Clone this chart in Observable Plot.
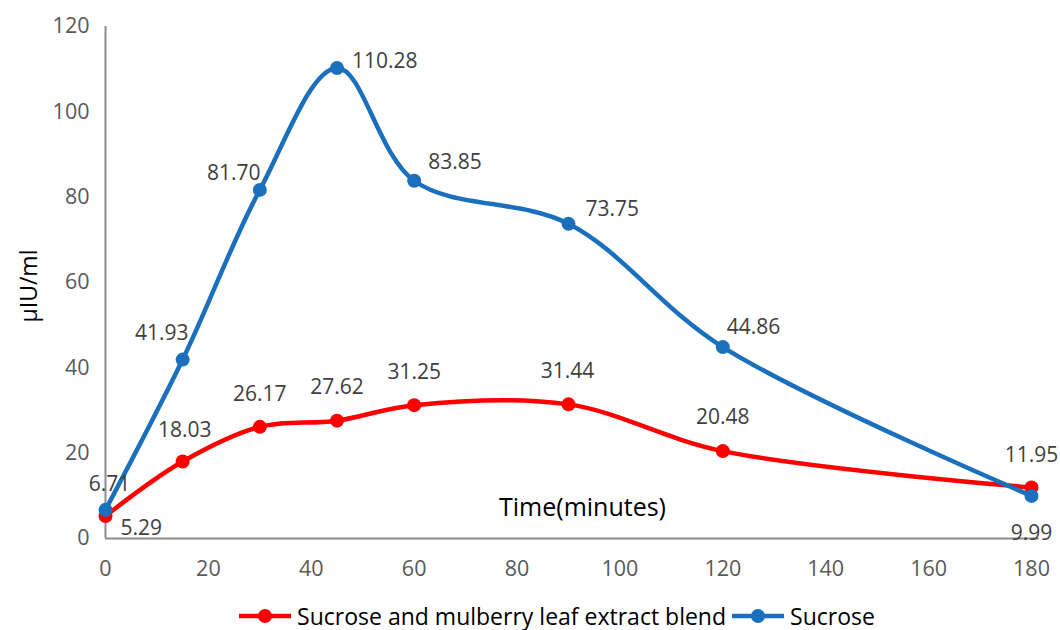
<!DOCTYPE html>
<html>
<head>
<meta charset="utf-8">
<script src="https://cdn.jsdelivr.net/npm/d3@7"></script>
<script src="https://cdn.jsdelivr.net/npm/@observablehq/plot@0.6"></script>
<style>
  html, body { margin: 0; background: white; font-family: "Open Sans", sans-serif; overflow: hidden; }
  #chart svg { display: block; }
  #legend { display: flex; justify-content: center; align-items: center; height: 28px; font-size: 23px; line-height: 1; color: #000; margin-left: 54px; margin-top: 2px; }
  .item { display: flex; align-items: center; margin: 0 3px; }
  .item svg { margin-right: 6px; }
</style>
</head>
<body>
<div id="chart"></div>
<div id="legend"></div>
<script>
const times = [0, 15, 30, 45, 60, 90, 120, 180];
const blend = [5.29, 18.03, 26.17, 27.62, 31.25, 31.44, 20.48, 11.95];
const sucrose = [6.71, 41.93, 81.70, 110.28, 83.85, 73.75, 44.86, 9.99];
const seriesNames = ["Sucrose and mulberry leaf extract blend", "Sucrose"];
const xTicks = [0, 20, 40, 60, 80, 100, 120, 140, 160, 180];
const yTicks = [0, 20, 40, 60, 80, 100, 120];
const colors = ["#ff0000", "#1a70bd"];

const seriesValues = [blend, sucrose];
const rows = [];
seriesNames.forEach((s, k) => times.forEach((t, i) => rows.push({series: s, k, i, t, v: seriesValues[k][i]})));

// label placement (offsets in px relative to the point), per series/index
const place = [
  [[15, 12, "start"], [2, -31, "middle"], [0, -33, "middle"], [0, -33, "middle"], [0, -33, "middle"], [-1, -33, "middle"], [0, -34, "middle"], [0, -32, "middle"]],
  [[4, -26, "middle"], [-21, -26, "middle"], [-26, -17, "middle"], [15, -7, "start"], [14, -18, "start"], [17, -15, "start"], [4, -20, "start"], [0, 37, "middle"]]
];

const labelMarks = [];
rows.forEach(r => {
  const [dx, dy, anchor] = place[r.k][r.i];
  labelMarks.push(Plot.text([r], {x: "t", y: "v", text: d => d.v.toFixed(2), dx, dy, textAnchor: anchor, fill: "#404040", fontSize: 21}));
});

const seriesMarks = [];
seriesNames.forEach((s, k) => {
  const data = rows.filter(r => r.k === k);
  seriesMarks.push(Plot.line(data, {x: "t", y: "v", stroke: colors[k], strokeWidth: 4.5, curve: "catmull-rom"}));
  seriesMarks.push(Plot.dot(data, {x: "t", y: "v", r: 7, fill: colors[k], stroke: "none"}));
});

const chart = Plot.plot({
  width: 1060,
  height: 600,
  marginLeft: 105,
  marginRight: 29,
  marginTop: 26,
  marginBottom: 62,
  style: {fontFamily: "Open Sans", fontSize: "21px", background: "white"},
  x: {domain: [0, 180]},
  y: {domain: [0, 120]},
  marks: [
    Plot.axisX(xTicks, {tickSize: 0, tickPadding: 22, fill: "#595959", fontSize: 21.5, label: null}),
    Plot.axisY(yTicks, {tickSize: 0, tickPadding: 16, fill: "#595959", fontSize: 21.5, label: null}),
    Plot.ruleX([0], {y1: 0, y2: 120, stroke: "#8c8c8c", strokeWidth: 2}),
    Plot.ruleY([0], {x1: 0, x2: 181.5, stroke: "#8c8c8c", strokeWidth: 2}),
    Plot.text(["Time(minutes)"], {text: d => d, frameAnchor: "bottom", dx: 14, dy: -23, fontSize: 25, fill: "#000"}),
    Plot.text(["μIU/ml"], {text: d => d, frameAnchor: "left", dx: -76, dy: 40, rotate: -90, fontSize: 23, fill: "#000"}),
    ...seriesMarks,
    ...labelMarks
  ]
});
document.getElementById("chart").appendChild(chart);

const legend = document.getElementById("legend");
seriesNames.forEach((s, k) => {
  const item = document.createElement("div");
  item.className = "item";
  item.innerHTML = `<svg width="52" height="20"><line x1="0" y1="10" x2="52" y2="10" stroke="${colors[k]}" stroke-width="4.5"/><circle cx="26" cy="10" r="7" fill="${colors[k]}"/></svg><span>${s}</span>`;
  legend.appendChild(item);
});
</script>
</body>
</html>
